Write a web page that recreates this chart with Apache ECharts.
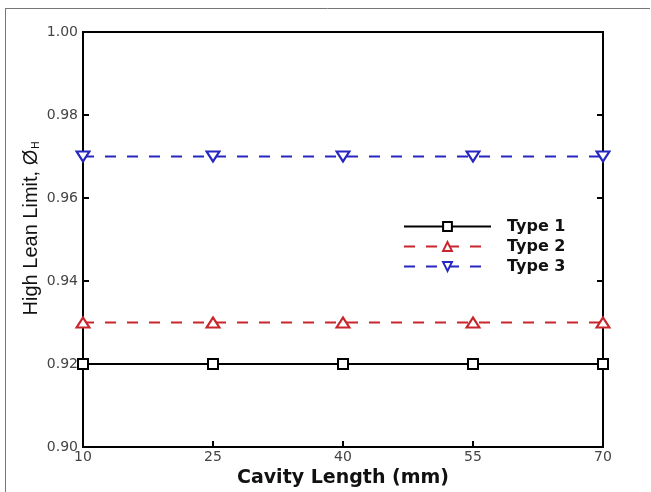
<!DOCTYPE html>
<html><head><meta charset="utf-8">
<script src="https://cdn.jsdelivr.net/npm/echarts@6/dist/echarts.min.js"></script>
<style>html,body{margin:0;padding:0;background:#fff}#c{width:651px;height:492px}</style>
</head><body><div id="c"></div>
<script>
const categories = ['10','25','40','55','70'];
const type1 = [0.92,0.92,0.92,0.92,0.92];
const type2 = [0.93,0.93,0.93,0.93,0.93];
const type3 = [0.97,0.97,0.97,0.97,0.97];
const seriesNames = ['Type 1','Type 2','Type 3'];

const chart = echarts.init(document.getElementById('c'));
const wide = 'DejaVu Sans, Verdana, sans-serif';
const lblFont = 'Liberation Sans, Arial, sans-serif';
const red = '#c8262c', blue = '#2626c0';
chart.setOption({
  animation:false,
  graphic:[
    {type:'line',shape:{x1:5,y1:8.5,x2:650,y2:8.5},style:{stroke:'#777',lineWidth:1}},
    {type:'line',shape:{x1:5.5,y1:8,x2:5.5,y2:492},style:{stroke:'#777',lineWidth:1}}
  ],
  grid:{left:83,right:48,top:32,bottom:45,outerBoundsMode:'none',containLabel:false,show:true,borderColor:'#000',borderWidth:2,backgroundColor:'transparent'},
  legend:{
    left:403, top:218, orient:'vertical', padding:0, itemWidth:87, itemHeight:11, itemGap:3,
    textStyle:{fontFamily:wide,fontWeight:'bold',fontSize:16,color:'#111',padding:[0,0,0,11],lineHeight:17},
    data:seriesNames
  },
  xAxis:{
    type:'category', data:categories, boundaryGap:false,
    name:'Cavity Length (mm)', nameLocation:'middle', nameGap:22,
    nameTextStyle:{fontFamily:wide,fontWeight:'bold',fontSize:19,color:'#111'},
    axisLine:{show:true,lineStyle:{color:'#000',width:2}},
    axisTick:{show:true,inside:true,length:6,lineStyle:{color:'#000',width:2},alignWithLabel:true},
    axisLabel:{fontFamily:wide,fontSize:14,color:'#444',margin:3},
    splitLine:{show:false}
  },
  yAxis:[{
    type:'value', min:0.90, max:1.00, interval:0.02,
    name:'{a|High Lean Limit, Ø}{b|H}', nameLocation:'middle', nameGap:42, nameRotate:90, nameMoveOverlap:false,
    nameTextStyle:{padding:[0,0,0,22],rich:{
      a:{fontFamily:lblFont,fontSize:20,color:'#111'},
      b:{fontFamily:lblFont,fontSize:10,color:'#111',verticalAlign:'bottom',padding:[10,0,0,1]}
    }},
    axisLine:{show:true,lineStyle:{color:'#000',width:2}},
    axisTick:{show:true,inside:true,length:6,lineStyle:{color:'#000',width:2}},
    axisLabel:{fontFamily:wide,fontSize:14,color:'#444',margin:5,formatter:v=>v.toFixed(2)},
    splitLine:{show:false}
  },{
    type:'value', min:0.90, max:1.00, interval:0.02, position:'right',
    axisLine:{show:true,lineStyle:{color:'#000',width:2}},
    axisTick:{show:true,inside:true,length:6,lineStyle:{color:'#000',width:2}},
    axisLabel:{show:false}, splitLine:{show:false}
  }],
  series:[
    {name:seriesNames[0],type:'line',data:type1,symbol:'rect',symbolSize:10,
     lineStyle:{color:'#000',width:2},itemStyle:{color:'#fff',borderColor:'#000',borderWidth:2},z:3},
    {name:seriesNames[1],type:'line',data:type2,symbol:'triangle',symbolSize:[13,10],
     lineStyle:{color:red,width:2.2,type:[11,11]},itemStyle:{color:'#fff',borderColor:red,borderWidth:2},z:3},
    {name:seriesNames[2],type:'line',data:type3,symbol:'triangle',symbolRotate:180,symbolSize:[13,10],
     lineStyle:{color:blue,width:2.2,type:[11,11]},itemStyle:{color:'#fff',borderColor:blue,borderWidth:2},z:3}
  ]
});
</script></body></html>
